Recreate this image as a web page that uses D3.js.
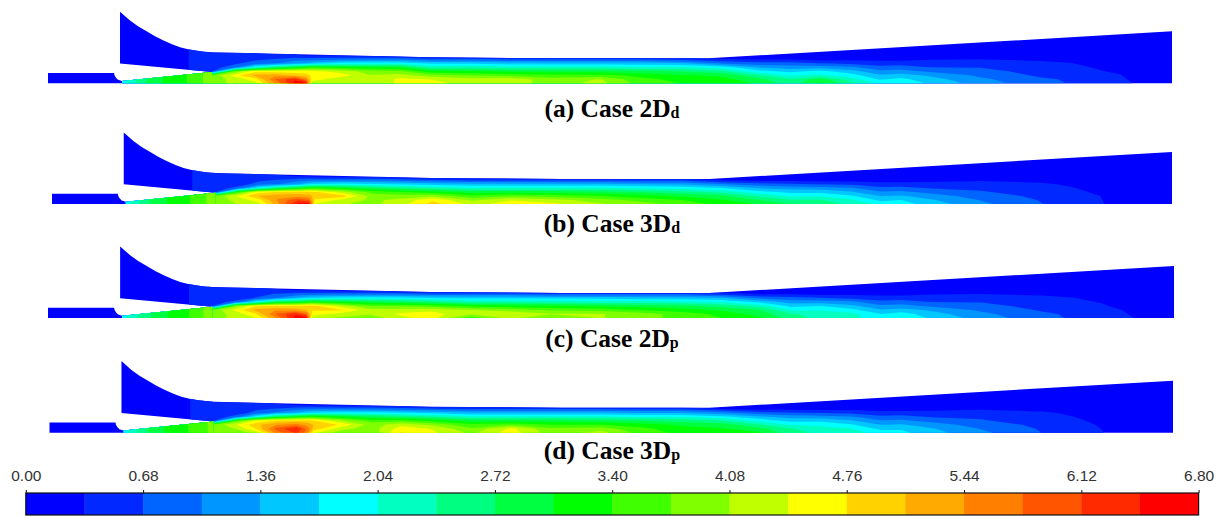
<!DOCTYPE html>
<html><head><meta charset="utf-8">
<script src="https://cdnjs.cloudflare.com/ajax/libs/d3/7.8.5/d3.min.js"></script>
<style>html,body{margin:0;background:#fff}svg{display:block}</style></head>
<body><svg id="c" width="1220" height="516"></svg>
<script>
const BAND_COLORS = ["#0000ff","#0028ff","#0064ff","#0096ff","#00c8ff","#00ffff","#00ffc0","#00ff80","#00ff40","#00ff00",
  "#40ff00","#80ff00","#c0ff00","#ffff00","#ffd200","#ffaa00","#ff8000","#ff5500","#ff2a00","#ff0000"];
const TICK_LABELS = ["0.00","0.68","1.36","2.04","2.72","3.40","4.08","4.76","5.44","6.12","6.80"];
const CAPTIONS = [["(a) Case 2D","d"],["(b) Case 3D","d"],["(c) Case 2D","p"],["(d) Case 3D","p"]];
const AXIS_PX = [83.3,204,318,432.7];
const X_RANGES = [[48,1172],[52,1172],[48,1174],[49.5,1173]];
const CAPTION_Y = [117,232,347,459];

// Vessel outline (axial position, height above axis)
const OUTLINE_X = [48,48,114,114.5,116,118,122,212,120,120,130,138,147,155,163,172,180,188,197,204,212,430,560,708,1172,1172];
const OUTLINE_H = [0,10.3,10.3,8,5.5,3.5,2.3,11.3,19.7,71.6,62.7,57,51.7,47,43,39,36,34,32.5,31.6,31,26,25,25,52,0];
const JET_OUTLINE_X = [122,212,212,122];
const JET_OUTLINE_H = [2.3,11.3,0,0];

// Field under the cone
const JET_STATIONS = [120,125,145,170,195,205,212];
const JET_HEIGHTS = [0,12];
const JET_A = [1.6,2.0,2.7,3.2,3.5,3.8,3.9];
const JET_B = [1.6,2.0,2.7,3.2,3.5,3.8,3.9];
const JET_C = [1.6,2.0,2.6,3.1,3.5,3.8,3.9];
const JET_D = [1.6,2.0,2.7,3.2,3.5,3.7,3.9];

// Main field: one column per station, heights upward; omitted upper values are 0
const STATIONS = [186,190,209,212,235,255,275,295,306,312,340,370,400,430,470,510,550,600,640,680,720,760,790,820,850,880,900,930,980,1040,1070,1100,1120,1132,1172];
const HEIGHTS = [0,4,8,12,16,20,24,28,36];
const PLENUM = [[0],[.5,.5,.5,.5,.5,.5,.5,.5,.5],[.5,.5,.5,.5,.5,.5,.5,.5,.5]];

const CASE_A = [
[3.9,3.9,3.8,.6,.5,.5,.5,.5],[4.2,4.2,4.6,3.8,.9,.6,.5,.5],[4.3,4.6,5.2,4.6,2.0,.85,.6,.5],[5.4,5.8,5.3,4.6,2.6,1.0,.7,.4],
[6.6,6.4,5.0,4.6,3.0,1.3,.85,.4],[6.6,5.6,4.9,4.6,3.2,1.4,.85,.3],[4.2,4.6,4.7,4.5,3.4,1.5,.85,.3],[4.1,4.2,4.6,4.3,3.2,1.8,.9,.3],
[4.1,4.1,4.1,3.9,3.1,1.9,.95,.2],[4.5,4.5,4.2,3.8,3.0,1.9,1.0,.2],[4.7,4.4,3.9,3.2,2.3,1.6,.8],[4.1,4.2,3.7,3.1,2.3,1.6,.8],
[4.3,4.3,3.6,3.0,2.2,1.5,.7],[3.9,3.9,3.5,2.9,2.2,1.5,.7],[4.2,4.1,3.5,2.9,2.2,1.5,.7],[3.6,3.5,3.3,2.8,2.1,1.5,.7],
[3.4,3.3,3.1,2.7,2.1,1.4,.6],[3.3,3.2,3.0,2.5,1.9,1.0,.4],[3.0,2.8,2.4,1.8,1.3,.8,.3],[2.5,2.4,2.0,1.6,1.2,.8,.3],
[3.1,2.9,2.1,1.8,1.2,.7,.2],[2.5,2.2,1.85,1.5,1.1,.6,.25],[2.0,1.65,1.4,1.1,.8,.5,.25],[1.95,1.8,1.5,1.15,.85,.5,.25],
[1.65,1.5,1.3,.95,.68,.48,.32],[1.2,1.1,.95,.8,.66,.5,.34,.1],[.8,.74,.62,.55,.47,.4,.3,.05],[.66,.64,.56,.48,.42,.36,.2],[.5,.47,.42,.36,.3,.2,.1],[.42,.4,.36,.28,.2,.1],[.34,.3,.2,.1],[0]];
const CASE_B = [
[3.9,3.9,3.8,.6,.5,.5,.5,.5],[4.1,4.2,4.5,3.5,.8,.5,.5,.5],[4.3,4.6,5.1,4.6,1.9,.8,.6,.45],[5.4,5.5,5.3,4.8,2.6,1.0,.7,.4],
[6.6,6.1,5.3,4.9,3.0,1.3,.85,.3],[6.6,5.8,5.2,4.9,3.3,1.6,.9,.3],[4.4,4.7,5.0,4.8,3.4,1.7,.9,.25],[4.1,4.3,4.9,4.2,3.1,1.8,.9,.2],
[4.0,4.0,3.9,3.6,2.7,1.7,.9,.15],[4.3,4.2,3.9,3.4,2.5,1.6,.8,.1],[4.9,4.7,4.0,3.2,2.3,1.5,.7],[4.3,4.0,3.5,2.9,2.1,1.4,.6],
[4.6,4.4,3.7,2.9,2.1,1.4,.6],[4.5,4.2,3.6,2.9,2.1,1.4,.6],[4.1,3.9,3.4,2.8,2.1,1.4,.6],[3.9,3.6,3.2,2.7,2.0,1.3,.6],
[3.6,3.4,3.0,2.5,1.9,1.3,.6],[3.3,3.1,2.8,2.3,1.7,1.0,.3],[3.0,2.7,2.3,1.8,1.3,.8,.2],[2.7,2.4,2.0,1.6,1.2,.7,.2],
[2.6,2.4,2.0,1.6,1.15,.65,.2],[2.3,2.1,1.75,1.4,1.05,.6,.2],[1.95,1.6,1.35,1.05,.75,.45,.2],[1.85,1.7,1.4,1.1,.8,.45,.2],
[1.55,1.4,1.2,.9,.65,.42,.25],[1.1,1.0,.85,.72,.6,.46,.3,.05],[.7,.66,.6,.5,.45,.38,.25],[.5,.48,.44,.4,.36,.3,.15],[.38,.36,.34,.3,.25,.15,.05],[.2,.15,.1],[.1,.05],[0]];
const CASE_C = [
[3.9,3.9,3.8,.6,.5,.5,.5,.5],[4.2,4.2,4.5,3.9,.8,.5,.5,.5],[4.4,4.7,5.2,4.7,1.9,.7,.55,.5],[5.4,5.8,5.4,4.8,2.8,1.0,.7,.4],
[6.6,6.4,5.3,4.8,3.0,1.4,.8,.3],[6.6,5.8,5.1,4.9,3.2,1.6,.85,.3],[4.2,4.6,4.8,4.9,3.3,1.7,.85,.3],[4.0,4.3,4.8,4.3,3.1,1.8,.9,.2],
[3.9,4.1,4.2,3.7,2.9,1.9,.9,.2],[4.3,4.5,4.2,3.7,2.8,1.8,.9,.1],[4.6,4.6,4.3,3.6,2.6,1.7,.8],[3.5,4.1,4.1,3.3,2.3,1.6,.8],
[4.2,4.4,3.9,3.2,2.3,1.6,.8],[3.7,4.1,3.7,3.1,2.3,1.6,.7],[4.1,4.1,3.6,3.0,2.2,1.6,.7],[3.9,3.9,3.4,2.9,2.2,1.5,.7],
[3.6,3.6,3.2,2.8,2.1,1.5,.7],[3.4,3.3,3.0,2.6,2.0,1.4,.5],[3.1,2.9,2.7,2.2,1.6,.9,.3],[2.5,2.4,2.0,1.6,1.2,.8,.3],
[2.3,2.3,2.0,1.7,1.2,.7,.2],[2.1,2.15,1.8,1.45,1.1,.6,.25],[1.9,1.7,1.4,1.1,.8,.5,.25],[1.95,1.85,1.5,1.15,.85,.5,.25],
[1.65,1.5,1.3,.95,.68,.48,.32],[1.2,1.1,.95,.8,.66,.5,.34,.05],[.8,.75,.64,.55,.47,.4,.3,.05],[.64,.62,.55,.48,.42,.36,.2],[.5,.46,.42,.38,.32,.22,.1],[.4,.38,.34,.26,.18,.1],[.34,.3,.2,.1],[0]];
const CASE_D = [
[3.9,3.9,3.8,.6,.5,.5,.5,.5],[3.9,4.1,4.4,3.6,.8,.5,.5,.5],[4.2,4.8,5.0,4.5,1.9,.8,.6,.45],[5.6,5.9,5.4,4.8,2.8,1.1,.7,.4],
[6.2,6.5,5.6,4.9,3.1,1.4,.85,.3],[5.6,5.7,5.3,4.9,3.3,1.6,.9,.3],[4.5,5.0,5.1,4.8,3.4,1.7,.9,.25],[3.9,4.2,4.7,4.1,3.1,1.8,.9,.2],
[3.8,3.9,3.9,3.6,2.8,1.8,.9,.15],[4.8,4.6,4.3,3.6,2.6,1.7,.8,.1],[4.5,4.4,4.0,3.3,2.4,1.6,.7],[4.0,3.8,3.5,2.9,2.1,1.4,.6],
[4.6,4.5,3.7,2.9,2.1,1.4,.6],[3.9,3.8,3.4,2.9,2.1,1.4,.6],[4.2,3.9,3.4,2.8,2.1,1.4,.6],[3.6,3.5,3.2,2.7,2.0,1.3,.6],
[3.3,3.2,3.0,2.6,2.0,1.3,.6],[3.2,3.1,2.9,2.4,1.8,1.1,.3],[3.1,2.8,2.4,1.9,1.4,.8,.2],[2.5,2.4,2.0,1.6,1.2,.7,.2],
[2.3,2.2,1.95,1.6,1.15,.65,.2],[2.2,2.05,1.75,1.4,1.05,.6,.2],[1.9,1.6,1.35,1.05,.75,.45,.2],[1.8,1.65,1.4,1.1,.8,.45,.2],
[1.5,1.4,1.2,.9,.65,.42,.25],[1.1,1.0,.85,.72,.6,.46,.3,.05],[.68,.65,.6,.5,.45,.38,.25],[.48,.46,.42,.38,.35,.3,.15],[.36,.34,.32,.3,.25,.15,.05],[.2,.15,.1],[.1,.05],[0]];

const CASES = [CASE_A,CASE_B,CASE_C,CASE_D];
const JETS = [JET_A,JET_B,JET_C,JET_D];
const VALUE_MAX = 6.8, STEP = 0.34;
const levels = d3.range(1, BAND_COLORS.length).map(k => k * STEP);

const svg = d3.select("#c");
const defs = svg.append("defs");

function drawField(g, columns, stations, heights, x, y) {
  const n = stations.length, m = heights.length;
  const values = new Array(n * m);
  for (let j = 0; j < m; j++) for (let i = 0; i < n; i++) values[j * n + i] = columns[i][j] ?? 0;
  const ix = d3.scaleLinear().domain(stations.map((_, i) => i + .5)).range(stations);
  const iy = d3.scaleLinear().domain(heights.map((_, j) => j + .5)).range(heights);
  const path = d3.geoPath(d3.geoTransform({ point(a, b) { this.stream.point(x(ix(a)), y(iy(b))); } }));
  const polys = d3.contours().size([n, m]).smooth(true).thresholds(levels)(values);
  g.selectAll("path").data(polys.filter(p => p.coordinates.length)).join("path")
    .attr("d", path)
    .attr("fill", d => BAND_COLORS[Math.round(d.value / STEP)]);
}

CASES.forEach((columns, c) => {
  const x = d3.scaleLinear().domain([48, 1172]).range(X_RANGES[c]);
  const y = d3.scaleLinear().domain([0, 72]).range([AXIS_PX[c], AXIS_PX[c] - 72]);
  const line = d3.line().x(d => x(d[0])).y(d => y(d[1]));
  const outline = line(OUTLINE_X.map((v, i) => [v, OUTLINE_H[i]])) + "Z";
  const jetOutline = line(JET_OUTLINE_X.map((v, i) => [v, JET_OUTLINE_H[i]])) + "Z";
  defs.append("clipPath").attr("id", "dom" + c).append("path").attr("d", outline);
  defs.append("clipPath").attr("id", "jet" + c).append("path").attr("d", jetOutline);
  const root = svg.append("g");
  root.append("path").attr("d", outline).attr("fill", BAND_COLORS[0]);
  drawField(root.append("g").attr("clip-path", `url(#dom${c})`), PLENUM.concat(columns), STATIONS, HEIGHTS, x, y);
  const jet = JETS[c].map(v => [v, v]);
  drawField(root.append("g").attr("clip-path", `url(#jet${c})`), jet, JET_STATIONS, JET_HEIGHTS, x, y);
  const t = svg.append("text").attr("x", 612).attr("y", CAPTION_Y[c]).attr("text-anchor", "middle")
    .attr("font-family", "'Liberation Serif',serif").attr("font-weight", "bold").attr("font-size", 25.5).attr("fill", "#000");
  t.append("tspan").text(CAPTIONS[c][0]);
  t.append("tspan").text(CAPTIONS[c][1]).attr("font-size", 16).attr("dy", 1);
});

// colour bar
const lx = d3.scaleLinear().domain([0, VALUE_MAX]).range([25.8, 1198.6]);
const bar = svg.append("g");
bar.selectAll("rect").data(BAND_COLORS).join("rect")
  .attr("x", (d, i) => lx(i * STEP)).attr("y", 493).attr("height", 22)
  .attr("width", lx(STEP) - lx(0) + .4).attr("fill", d => d);
bar.append("rect").attr("x", lx(0)).attr("y", 493).attr("width", lx(VALUE_MAX) - lx(0)).attr("height", 22)
  .attr("fill", "none").attr("stroke", "#111").attr("stroke-width", 1.2);
const axis = d3.axisTop(lx).tickValues(TICK_LABELS.map(Number)).tickFormat(d => d.toFixed(2)).tickSize(3).tickPadding(9);
const ag = svg.append("g").attr("transform", "translate(0,493)").call(axis);
ag.select(".domain").remove();
ag.selectAll("line").attr("stroke", "#111");
ag.selectAll("text").attr("font-family", "'Liberation Sans',Arial,sans-serif").attr("font-size", 15.5).attr("fill", "#333");
</script></body></html>
